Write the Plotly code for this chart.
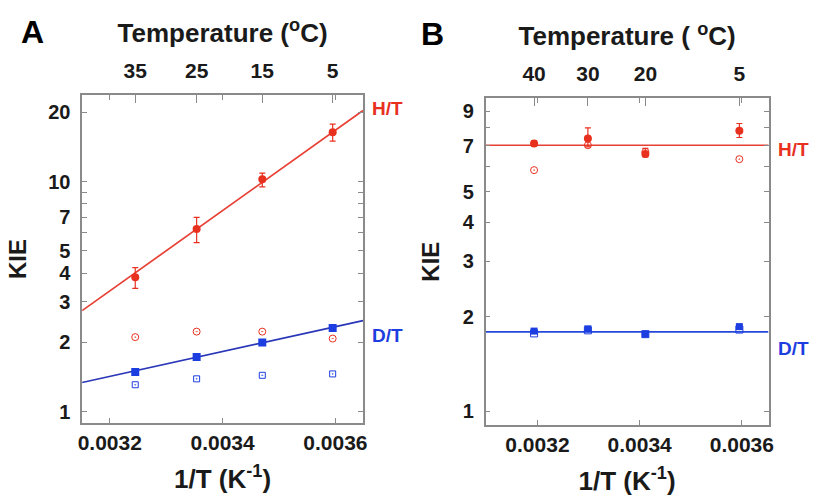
import plotly.graph_objects as go

# ---------------- data ----------------
tempA = [35, 25, 15, 5]          # deg C, panel A
tempB = [40, 30, 20, 5]          # deg C, panel B

A_HT = [3.84, 6.23, 10.24, 16.4]
A_HT_errp = [0.39, 0.77, 0.66, 1.4]
A_HT_errm = [0.40, 0.80, 0.74, 1.4]
A_HT_open = [2.11, 2.23, 2.23, 2.08]
A_DT = [1.49, 1.73, 2.00, 2.31]
A_DT_open = [1.31, 1.39, 1.44, 1.46]
A_fit_x = [0.003151, 0.003649]
A_fit_HT = [2.75, 20.4]
A_fit_DT = [1.34, 2.49]

B_HT = [7.11, 7.38, 6.58, 7.80]
B_HT_errp = [0.14, 0.59, 0.28, 0.43]
B_HT_errm = [0.14, 0.44, 0.13, 0.37]
B_HT_open = [5.85, 7.02, 6.69, 6.34]
B_DT = [1.80, 1.83, 1.76, 1.86]
B_DT_open = [1.77, 1.81, 1.76, 1.82]
B_fit_x = [0.0030987, 0.0036523]
B_fit_HT = [7.02, 7.02]
B_fit_DT = [1.79, 1.79]

x_ticks = [0.0032, 0.0034, 0.0036]
x_ticktext = ["0.0032", "0.0034", "0.0036"]
yA_ticks = [1, 2, 3, 4, 5, 7, 10, 20]
yA_text = ["1", "2", "3", "4", "5", "7", "10", "20"]
yA_minor = [6, 8, 9]
yB_ticks = [1, 2, 3, 4, 5, 7, 9]
yB_text = ["1", "2", "3", "4", "5", "7", "9"]
yB_minor = [6, 8]

invA = [1.0 / (t + 273.15) for t in tempA]
invB = [1.0 / (t + 273.15) for t in tempB]

RED = "#e8301f"
RED_LINE = "#e84035"
BLUE = "#1c3ee0"
BLUE_LINE_A = "#2a36b8"
BLUE_LINE_B = "#2448d8"
AXC = "#8a8a8a"
FONT = "Arial, Liberation Sans, sans-serif"

fig = go.Figure()

# ---- panel A ----
fig.add_trace(go.Scatter(x=A_fit_x, y=A_fit_HT, mode="lines", line=dict(color=RED_LINE, width=1.7),
                         xaxis="x", yaxis="y", showlegend=False))
fig.add_trace(go.Scatter(x=A_fit_x, y=A_fit_DT, mode="lines", line=dict(color=BLUE_LINE_A, width=1.7),
                         xaxis="x", yaxis="y", showlegend=False))
fig.add_trace(go.Scatter(x=invA, y=A_HT, mode="markers",
                         marker=dict(symbol="circle", size=8, color=RED),
                         error_y=dict(type="data", array=A_HT_errp, arrayminus=A_HT_errm,
                                      color=RED, thickness=1.2, width=3),
                         xaxis="x", yaxis="y", showlegend=False))
fig.add_trace(go.Scatter(x=invA, y=A_HT_open, mode="markers",
                         marker=dict(symbol="circle-open-dot", size=7, color=RED, line=dict(width=1)),
                         xaxis="x", yaxis="y", showlegend=False))
fig.add_trace(go.Scatter(x=invA, y=A_DT, mode="markers",
                         marker=dict(symbol="square", size=8, color=BLUE),
                         xaxis="x", yaxis="y", showlegend=False))
fig.add_trace(go.Scatter(x=invA, y=A_DT_open, mode="markers",
                         marker=dict(symbol="square-open-dot", size=6, color=BLUE, line=dict(width=1)),
                         xaxis="x", yaxis="y", showlegend=False))
# invisible trace to activate the top temperature axis of A
fig.add_trace(go.Scatter(x=invA, y=A_HT, mode="markers", marker=dict(opacity=0),
                         xaxis="x3", yaxis="y", showlegend=False, hoverinfo="skip"))

# ---- panel B ----
fig.add_trace(go.Scatter(x=B_fit_x, y=B_fit_HT, mode="lines", line=dict(color=RED_LINE, width=1.7),
                         xaxis="x2", yaxis="y2", showlegend=False))
fig.add_trace(go.Scatter(x=B_fit_x, y=B_fit_DT, mode="lines", line=dict(color=BLUE_LINE_B, width=1.7),
                         xaxis="x2", yaxis="y2", showlegend=False))
fig.add_trace(go.Scatter(x=invB, y=B_HT_open, mode="markers",
                         marker=dict(symbol="circle-open-dot", size=7, color=RED, line=dict(width=1)),
                         xaxis="x2", yaxis="y2", showlegend=False))
fig.add_trace(go.Scatter(x=invB, y=B_HT, mode="markers",
                         marker=dict(symbol="circle", size=8, color=RED),
                         error_y=dict(type="data", array=B_HT_errp, arrayminus=B_HT_errm,
                                      color=RED, thickness=1.2, width=3),
                         xaxis="x2", yaxis="y2", showlegend=False))
fig.add_trace(go.Scatter(x=invB, y=B_DT_open, mode="markers",
                         marker=dict(symbol="square-open-dot", size=7, color=BLUE, line=dict(width=1)),
                         xaxis="x2", yaxis="y2", showlegend=False))
fig.add_trace(go.Scatter(x=invB, y=B_DT, mode="markers",
                         marker=dict(symbol="square", size=7, color=BLUE),
                         xaxis="x2", yaxis="y2", showlegend=False))
fig.add_trace(go.Scatter(x=invB, y=B_HT, mode="markers", marker=dict(opacity=0),
                         xaxis="x4", yaxis="y2", showlegend=False, hoverinfo="skip"))

tickfont = dict(family=FONT, size=21, color="#1a1a1a", weight="bold")
titlefont = dict(family=FONT, size=26, color="#1a1a1a", weight="bold")
kiefont = dict(family=FONT, size=24, color="#1a1a1a", weight="bold")
ytickfont = dict(family=FONT, size=20, color="#1a1a1a", weight="bold")

common_x = dict(tickvals=x_ticks, ticktext=x_ticktext, ticks="inside", ticklen=5, tickwidth=1,
                tickcolor=AXC, showline=True, linecolor=AXC, linewidth=1.5, mirror="ticks",
                showgrid=False, zeroline=False, tickfont=tickfont, ticklabelstandoff=0,
                title=dict(text="1/T (K<sup>-1</sup>)", font=titlefont, standoff=17))
common_y = dict(type="log", ticks="inside", ticklen=5, tickwidth=1, tickcolor=AXC,
                showline=True, linecolor=AXC, linewidth=1.5, mirror="ticks",
                showgrid=False, zeroline=False, tickfont=ytickfont, ticklabelstandoff=6)
top_x = dict(side="top", ticks="inside", ticklen=8, tickwidth=1, tickcolor=AXC,
             showline=False, showgrid=False, zeroline=False, tickfont=tickfont, ticklabelstandoff=12)

fig.update_layout(
    width=822, height=501,
    margin=dict(l=0, r=0, t=0, b=0),
    paper_bgcolor="white", plot_bgcolor="white",
    xaxis=dict(domain=[0.0961, 0.4416], range=[0.003151, 0.003649], anchor="y", **common_x),
    yaxis=dict(domain=[0.1557, 0.8104], range=[-0.049, 1.377], anchor="x",
               tickvals=yA_ticks, ticktext=yA_text,
               minor=dict(tickmode="array", tickvals=yA_minor, ticks="inside", ticklen=5, tickcolor=AXC),
               title=dict(text="KIE", font=kiefont, standoff=15), **common_y),
    xaxis3=dict(overlaying="x", anchor="y", range=[0.003151, 0.003649],
                tickvals=invA, ticktext=[str(t) for t in tempA],
                title=dict(text="Temperature (<sup>o</sup>C)", font=titlefont, standoff=8), **top_x),
    xaxis2=dict(domain=[0.5925, 0.9404], range=[0.0030987, 0.0036523], anchor="y2", **common_x),
    yaxis2=dict(domain=[0.1517, 0.8038], range=[-0.0434, 0.9956], anchor="x2",
                tickvals=yB_ticks, ticktext=yB_text,
                minor=dict(tickmode="array", tickvals=yB_minor, ticks="inside", ticklen=5, tickcolor=AXC),
                title=dict(text="KIE", font=kiefont, standoff=16), **common_y),
    xaxis4=dict(overlaying="x2", anchor="y2", range=[0.0030987, 0.0036523],
                tickvals=invB, ticktext=[str(t) for t in tempB],
                title=dict(text="Temperature ( <sup>o</sup>C)", font=titlefont, standoff=8), **top_x),
    annotations=[
        dict(text="A", x=29 / 822, y=1 - 32 / 501, xref="paper", yref="paper", xanchor="center",
             yanchor="middle", showarrow=False, font=dict(family=FONT, size=32, color="black", weight="bold")),
        dict(text="B", x=433 / 822, y=1 - 34 / 501, xref="paper", yref="paper", xanchor="center",
             yanchor="middle", showarrow=False, font=dict(family=FONT, size=32, color="black", weight="bold")),
        dict(text="H/T", x=370 / 822, y=1 - 108 / 501, xref="paper", yref="paper", xanchor="left",
             yanchor="middle", showarrow=False, font=dict(family=FONT, size=19, color=RED, weight="bold")),
        dict(text="D/T", x=370 / 822, y=1 - 335 / 501, xref="paper", yref="paper", xanchor="left",
             yanchor="middle", showarrow=False, font=dict(family=FONT, size=19, color=BLUE, weight="bold")),
        dict(text="H/T", x=781 / 822, y=1 - 150 / 501, xref="paper", yref="paper", xanchor="left",
             yanchor="middle", showarrow=False, font=dict(family=FONT, size=19, color=RED, weight="bold")),
        dict(text="D/T", x=781 / 822, y=1 - 348 / 501, xref="paper", yref="paper", xanchor="left",
             yanchor="middle", showarrow=False, font=dict(family=FONT, size=19, color=BLUE, weight="bold")),
    ],
)

fig.write_html("out.html")
